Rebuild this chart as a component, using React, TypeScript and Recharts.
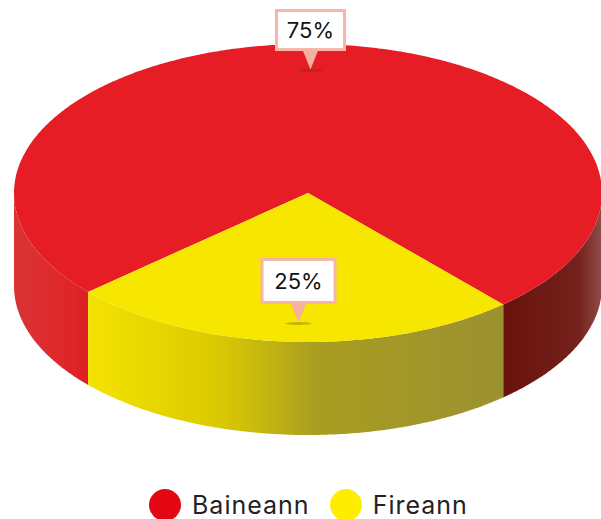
import { PieChart, Pie, Legend } from "recharts";

const categories = ["Baineann", "Fireann"];
const values = [75, 25];
const colors = ["#e71d25", "#f6e600"];

const W = 601;
const H = 519;
const CX = 308;
const CY = 193;
const RX = 294;
const RY = 149;
const DEPTH = 93;
const FONT = "Inter, sans-serif";

// callout box size and nudge per slice, in the same order as categories
const boxW = [68, 73];
const boxH = [39, 43];
const nudgeX = [-12, 5];
const nudgeY = [0, 6];
const tipFactor = 0.83;

const data = categories.map((name, i) => ({ name, value: values[i], fill: colors[i] }));

const RAD = Math.PI / 180;

const pt = (a: number, dy = 0) =>
  `${(CX + RX * Math.cos(a * RAD)).toFixed(1)},${(CY - RY * Math.sin(a * RAD) + dy).toFixed(1)}`;

const Slice3D = ({ startAngle, endAngle, name, fill }: any) => {
  const lo = Math.min(startAngle, endAngle);
  const hi = Math.max(startAngle, endAngle);
  const angles: number[] = [];
  for (let a = lo; a < hi; a += 0.5) angles.push(a);
  angles.push(hi);

  // the rim is only seen where the slice is on the front half of the ellipse
  const runs: number[][] = [];
  let run: number[] = [];
  angles.forEach((a) => {
    if (Math.sin(a * RAD) <= 0.0001) run.push(a);
    else if (run.length) {
      runs.push(run);
      run = [];
    }
  });
  if (run.length) runs.push(run);

  const top =
    `M${CX},${CY} L` + angles.map((a) => pt(a)).join(" L") + " Z";

  return (
    <g>
      {runs.map((r, i) => (
        <path
          key={i}
          d={
            "M" +
            r.map((a) => pt(a)).join(" L") +
            " L" +
            [...r].reverse().map((a) => pt(a, DEPTH)).join(" L") +
            " Z"
          }
          fill={`url(#wall-${categories.indexOf(name)})`}
        />
      ))}
      <path d={top} fill={fill} />
    </g>
  );
};

const Callout = ({ midAngle, value, index }: any) => {
  const tipX = CX + RX * tipFactor * Math.cos(midAngle * RAD) + nudgeX[index];
  const tipY = CY - RY * tipFactor * Math.sin(midAngle * RAD) + nudgeY[index];
  const w = boxW[index];
  const h = boxH[index];
  const boxBottom = tipY - 20;
  return (
    <g>
      <ellipse cx={tipX} cy={tipY + 1} rx={13} ry={1.5} fill="#5a3a10" opacity={0.3} />
      <path
        d={`M${tipX - 8},${boxBottom} L${tipX + 8},${boxBottom} L${tipX},${tipY} Z`}
        fill="#f7b0a0"
      />
      <rect
        x={tipX - w / 2}
        y={boxBottom - h}
        width={w}
        height={h}
        fill="#ffffff"
        stroke="#f7b5a8"
        strokeWidth={3}
      />
      <text
        x={tipX}
        y={boxBottom - h / 2 + 8}
        textAnchor="middle"
        fontFamily={FONT}
        fontSize={22}
        fill="#141414"
      >
        {`${value}%`}
      </text>
    </g>
  );
};

const LegendRow = ({ payload }: any) => (
  <div style={{ display: "flex", alignItems: "center", paddingLeft: 149, fontFamily: FONT }}>
    {(payload || []).map((item: any) => (
      <div key={item.value} style={{ display: "flex", alignItems: "center", marginRight: 20 }}>
        <span
          style={{
            width: 32,
            height: 32,
            borderRadius: "50%",
            marginRight: 11,
            background: item.value === categories[0] ? "#e30613" : "#ffed00",
          }}
        />
        <span style={{ fontSize: 25, letterSpacing: 1, color: "#222", lineHeight: "32px" }}>{item.value}</span>
      </div>
    ))}
  </div>
);

export default function App() {
  return (
    <div style={{ position: "absolute", left: 0, top: 0, width: W, height: H, overflow: "hidden", background: "#fff" }}>
      <PieChart width={W} height={H} margin={{ top: 0, right: 0, bottom: 0, left: 0 }}>
        <defs>
          <linearGradient id="wall-0" gradientUnits="userSpaceOnUse" x1="14" y1="0" x2="602" y2="0">
            <stop offset="0" stopColor="#d93434" />
            <stop offset="0.07" stopColor="#df2a2d" />
            <stop offset="0.13" stopColor="#dc1f24" />
            <stop offset="0.84" stopColor="#6a130d" />
            <stop offset="0.96" stopColor="#75211c" />
            <stop offset="1" stopColor="#8f4c4a" />
          </linearGradient>
          <linearGradient id="wall-1" gradientUnits="userSpaceOnUse" x1="88" y1="0" x2="503" y2="0">
            <stop offset="0" stopColor="#f4e300" />
            <stop offset="0.3" stopColor="#dccb00" />
            <stop offset="0.42" stopColor="#c6b710" />
            <stop offset="0.55" stopColor="#a99d20" />
            <stop offset="1" stopColor="#9b9130" />
          </linearGradient>
        </defs>
        <Pie
          data={data}
          dataKey="value"
          nameKey="name"
          cx={CX}
          cy={CY}
          outerRadius={RX}
          startAngle={-138.4}
          endAngle={-498.4}
          stroke="none"
          shape={Slice3D}
          label={Callout}
          labelLine={false}
          isAnimationActive={false}
        />
        <Legend
          content={LegendRow}
          wrapperStyle={{ position: "absolute", left: 0, top: 489, width: W, bottom: "auto" }}
        />
      </PieChart>
    </div>
  );
}
